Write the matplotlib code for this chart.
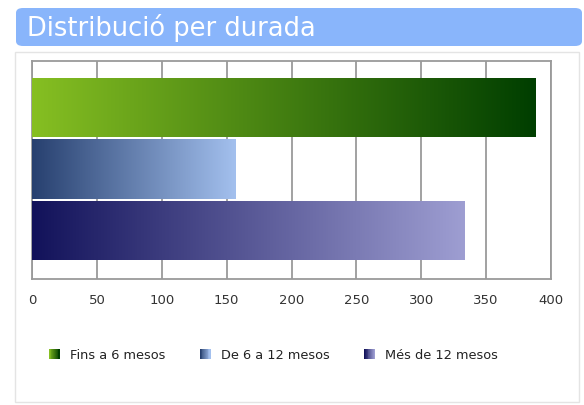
import numpy as np
import matplotlib
matplotlib.use("Agg")
import matplotlib.pyplot as plt
from matplotlib.colors import LinearSegmentedColormap
from matplotlib.patches import Rectangle, FancyBboxPatch
from matplotlib.legend_handler import HandlerBase

title = "Distribució per durada"
series = ["Fins a 6 mesos", "De 6 a 12 mesos", "Més de 12 mesos"]
values = [388, 157, 333]
grad_colors = [("#86bf22", "#003e00"), ("#27406f", "#a3c0ee"), ("#12125a", "#9e9ed2")]
ticks = [0, 50, 100, 150, 200, 250, 300, 350, 400]

cmaps = [LinearSegmentedColormap.from_list("g%d" % i, c) for i, c in enumerate(grad_colors)]

fig = plt.figure(figsize=(5.84, 4.06), dpi=100)
W, H = 584, 406

# panel + title bar
panel = FancyBboxPatch((15 / W, 3 / H), 564 / W, 350 / H, boxstyle="square,pad=0",
                       transform=fig.transFigure, facecolor="white", edgecolor="#e4e4e4", lw=1, zorder=-2)
fig.patches.append(panel)
bar_top = FancyBboxPatch((16 / W, (H - 47) / H), 566 / W, 38 / H,
                         boxstyle="round,pad=0,rounding_size=0.012",
                         transform=fig.transFigure, facecolor="#89b5fb", edgecolor="#89b5fb", lw=0, zorder=-1)
fig.patches.append(bar_top)
fig.text(27 / W, 1 - 28 / H, title, color="white", fontsize=18.5, va="center", ha="left")

ax = fig.add_axes([32 / W, 1 - 280 / H, (551 - 32) / W, (280 - 62) / H])
ax.set_xlim(0, 400)
ax.set_ylim(2.79, -0.76)
ax.set_xticks(ticks)
ax.set_yticks([])
ax.grid(axis="x", color="#9a9a9a", lw=1.3)
ax.set_axisbelow(True)
for s in ax.spines.values():
    s.set_color("#9a9a9a")
    s.set_linewidth(1.3)
ax.tick_params(axis="x", length=0, pad=10, labelsize=9.5, labelcolor="#333333")

grad = np.linspace(0, 1, 256).reshape(1, -1)
bh = 0.97
for i, (v, cm) in enumerate(zip(values, cmaps)):
    bars = ax.barh(i, v, height=bh, color="none", edgecolor="none")
    r = bars[0]
    im = ax.imshow(grad, cmap=cm, aspect="auto", extent=(0, v, i + bh / 2, i - bh / 2), zorder=3)
    im.set_clip_path(r)
ax.set_xlim(0, 400)
ax.set_ylim(2.79, -0.76)


class GradHandler(HandlerBase):
    def __init__(self, cmap):
        super().__init__()
        self.cmap = cmap

    def create_artists(self, legend, orig_handle, xdescent, ydescent, width, height, fontsize, trans):
        n = 12
        s = height * 1.15
        x0 = -xdescent + width - s
        y0 = -ydescent + (height - s) / 2
        arts = []
        for k in range(n):
            arts.append(Rectangle((x0 + k * s / n, y0), s / n + 0.3, s,
                                  facecolor=self.cmap(k / (n - 1)), edgecolor="none", transform=trans))
        return arts


handles = [Rectangle((0, 0), 1, 1) for _ in series]
fig.legend(handles, series, loc="center", bbox_to_anchor=(272 / W, 1 - 356 / H), ncol=3, frameon=False,
           fontsize=9.3, handler_map={h: GradHandler(c) for h, c in zip(handles, cmaps)},
           handlelength=1.0, handletextpad=0.8, columnspacing=2.5, labelcolor="#222222")

fig.savefig("out.png", dpi=100, facecolor="white")
